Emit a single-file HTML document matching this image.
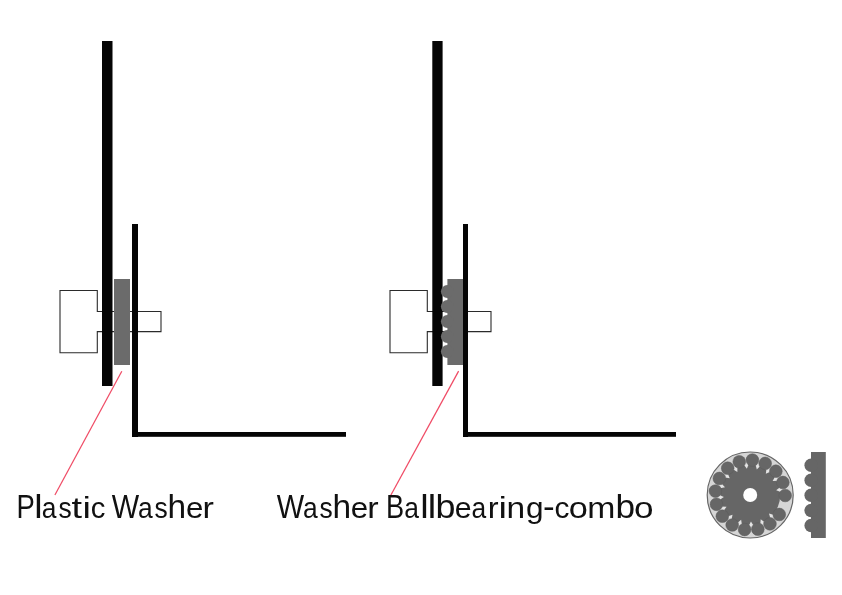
<!DOCTYPE html>
<html><head><meta charset="utf-8"><title>Washer diagram</title>
<style>
html,body{margin:0;padding:0;background:#fff;}
body{width:842px;height:595px;overflow:hidden;}
svg{display:block;will-change:transform;font-family:"Liberation Sans", sans-serif;}
</style></head><body>
<svg width="842" height="595" viewBox="0 0 842 595">
<rect width="842" height="595" fill="#fff"/>
<path d="M161 311.5 H97.3 V290.5 H60 V352.7 H97.3 V331.6 H161 Z" fill="none" stroke="#2b2b2b" stroke-width="1.1"/>
<rect x="102" y="41" width="10.5" height="345" fill="#050505"/>
<rect x="114" y="279" width="16" height="86" fill="#6b6b6b"/>
<rect x="132" y="224" width="6" height="213" fill="#050505"/>
<rect x="132" y="432" width="214" height="4.8" fill="#050505"/>
<line x1="121.8" y1="371.3" x2="54.9" y2="495" stroke="#f04c66" stroke-width="1.25"/>
<path d="M491 311.5 H427.3 V290.5 H390 V352.7 H427.3 V331.6 H491 Z" fill="none" stroke="#2b2b2b" stroke-width="1.1"/>
<rect x="432.3" y="41" width="10.3" height="345" fill="#050505"/>
<rect x="447.4" y="279" width="15.6" height="86" fill="#6b6b6b"/>
<circle cx="447.3" cy="291.5" r="6.4" fill="#6b6b6b"/>
<circle cx="447.3" cy="306.5" r="6.4" fill="#6b6b6b"/>
<circle cx="447.3" cy="321.5" r="6.4" fill="#6b6b6b"/>
<circle cx="447.3" cy="336.5" r="6.4" fill="#6b6b6b"/>
<circle cx="447.3" cy="351.5" r="6.4" fill="#6b6b6b"/>
<rect x="463" y="224" width="5" height="213" fill="#050505"/>
<rect x="463" y="432" width="213" height="4.8" fill="#050505"/>
<line x1="458.6" y1="371.1" x2="390.8" y2="495.3" stroke="#f04c66" stroke-width="1.25"/>
<text transform="translate(16.46 518) scale(0.830 1.0)" font-size="33" fill="#111">P</text>
<text transform="translate(34.30 518) scale(1.138 1.0)" font-size="33" fill="#111">l</text>
<text transform="translate(41.83 518) scale(0.800 0.91)" font-size="33" fill="#111">a</text>
<text transform="translate(58.52 518) scale(0.800 0.91)" font-size="33" fill="#111">s</text>
<text transform="translate(71.47 518) scale(1.150 0.91)" font-size="33" fill="#111">t</text>
<text transform="translate(82.45 518) scale(1.150 0.91)" font-size="33" fill="#111">i</text>
<text transform="translate(90.66 518) scale(0.887 0.91)" font-size="33" fill="#111">c</text>
<text transform="translate(111.82 518) scale(0.880 1.0)" font-size="33" fill="#111">W</text>
<text transform="translate(138.08 518) scale(0.800 0.91)" font-size="33" fill="#111">a</text>
<text transform="translate(154.59 518) scale(0.800 0.91)" font-size="33" fill="#111">s</text>
<text transform="translate(167.57 518) scale(1.014 1.0)" font-size="33" fill="#111">h</text>
<text transform="translate(185.97 518) scale(0.948 0.91)" font-size="33" fill="#111">e</text>
<text transform="translate(202.42 518) scale(1.037 0.91)" font-size="33" fill="#111">r</text>
<text transform="translate(276.72 518) scale(0.880 1.0)" font-size="33" fill="#111">W</text>
<text transform="translate(302.98 518) scale(0.800 0.91)" font-size="33" fill="#111">a</text>
<text transform="translate(319.50 518) scale(0.800 0.91)" font-size="33" fill="#111">s</text>
<text transform="translate(332.47 518) scale(1.014 1.0)" font-size="33" fill="#111">h</text>
<text transform="translate(350.87 518) scale(0.948 0.91)" font-size="33" fill="#111">e</text>
<text transform="translate(367.32 518) scale(1.037 0.91)" font-size="33" fill="#111">r</text>
<text transform="translate(385.98 518) scale(0.824 1.0)" font-size="33" fill="#111">B</text>
<text transform="translate(404.13 518) scale(0.800 0.91)" font-size="33" fill="#111">a</text>
<text transform="translate(420.30 518) scale(1.150 1.0)" font-size="33" fill="#111">l</text>
<text transform="translate(427.70 518) scale(1.150 1.0)" font-size="33" fill="#111">l</text>
<text transform="translate(435.62 518) scale(1.087 1.0)" font-size="33" fill="#111">b</text>
<text transform="translate(454.72 518) scale(0.916 0.91)" font-size="33" fill="#111">e</text>
<text transform="translate(471.48 518) scale(0.800 0.91)" font-size="33" fill="#111">a</text>
<text transform="translate(487.83 518) scale(0.988 0.91)" font-size="33" fill="#111">r</text>
<text transform="translate(498.55 518) scale(1.150 0.91)" font-size="33" fill="#111">i</text>
<text transform="translate(506.57 518) scale(1.014 0.91)" font-size="33" fill="#111">n</text>
<text transform="translate(525.96 518) scale(0.959 0.91)" font-size="33" fill="#111">g</text>
<text transform="translate(543.11 518) scale(1.063 1.0)" font-size="33" fill="#111">-</text>
<text transform="translate(554.58 518) scale(0.905 0.91)" font-size="33" fill="#111">c</text>
<text transform="translate(568.85 518) scale(1.038 0.91)" font-size="33" fill="#111">o</text>
<text transform="translate(587.25 518) scale(1.022 0.91)" font-size="33" fill="#111">m</text>
<text transform="translate(615.46 518) scale(1.067 1.0)" font-size="33" fill="#111">b</text>
<text transform="translate(633.91 518) scale(1.064 0.91)" font-size="33" fill="#111">o</text>
<circle cx="750.2" cy="495" r="43" fill="#d6d6d6" stroke="#666" stroke-width="1.2"/>
<circle cx="750.2" cy="495" r="30" fill="#666"/>
<path d="M774.91 515.24 L770.69 519.50 L768.97 513.57 Z" fill="#e4e4e4"/>
<path d="M765.63 522.97 L760.13 525.36 L760.73 519.21 Z" fill="#e4e4e4"/>
<path d="M754.14 526.70 L748.14 526.88 L750.98 521.39 Z" fill="#e4e4e4"/>
<path d="M742.09 525.89 L736.45 523.83 L741.13 519.79 Z" fill="#e4e4e4"/>
<path d="M731.20 520.67 L726.73 516.67 L732.57 514.65 Z" fill="#e4e4e4"/>
<path d="M723.02 511.78 L720.36 506.40 L726.53 506.70 Z" fill="#e4e4e4"/>
<path d="M718.73 500.49 L718.26 494.50 L723.88 497.07 Z" fill="#e4e4e4"/>
<path d="M718.95 488.41 L720.73 482.68 L724.99 487.15 Z" fill="#e4e4e4"/>
<path d="M723.63 477.27 L727.41 472.62 L729.71 478.35 Z" fill="#e4e4e4"/>
<path d="M732.11 468.67 L737.36 465.76 L737.36 471.93 Z" fill="#e4e4e4"/>
<path d="M743.18 463.84 L749.14 463.08 L746.85 468.81 Z" fill="#e4e4e4"/>
<path d="M755.26 463.46 L761.07 464.96 L756.81 469.44 Z" fill="#e4e4e4"/>
<path d="M766.61 467.60 L771.44 471.15 L765.83 473.72 Z" fill="#e4e4e4"/>
<path d="M775.61 475.65 L778.78 480.74 L772.61 481.05 Z" fill="#e4e4e4"/>
<path d="M780.98 486.47 L782.03 492.38 L776.19 490.37 Z" fill="#e4e4e4"/>
<circle cx="779.28" cy="514.47" r="6.35" fill="#666" stroke="#5a5a5a" stroke-width="0.5"/>
<circle cx="769.97" cy="523.88" r="6.35" fill="#666" stroke="#5a5a5a" stroke-width="0.5"/>
<circle cx="757.84" cy="529.16" r="6.35" fill="#666" stroke="#5a5a5a" stroke-width="0.5"/>
<circle cx="744.60" cy="529.55" r="6.35" fill="#666" stroke="#5a5a5a" stroke-width="0.5"/>
<circle cx="732.17" cy="525.00" r="6.35" fill="#666" stroke="#5a5a5a" stroke-width="0.5"/>
<circle cx="722.32" cy="516.16" r="6.35" fill="#666" stroke="#5a5a5a" stroke-width="0.5"/>
<circle cx="716.46" cy="504.29" r="6.35" fill="#666" stroke="#5a5a5a" stroke-width="0.5"/>
<circle cx="715.42" cy="491.10" r="6.35" fill="#666" stroke="#5a5a5a" stroke-width="0.5"/>
<circle cx="719.35" cy="478.46" r="6.35" fill="#666" stroke="#5a5a5a" stroke-width="0.5"/>
<circle cx="727.70" cy="468.19" r="6.35" fill="#666" stroke="#5a5a5a" stroke-width="0.5"/>
<circle cx="739.27" cy="461.75" r="6.35" fill="#666" stroke="#5a5a5a" stroke-width="0.5"/>
<circle cx="752.40" cy="460.07" r="6.35" fill="#666" stroke="#5a5a5a" stroke-width="0.5"/>
<circle cx="765.21" cy="463.38" r="6.35" fill="#666" stroke="#5a5a5a" stroke-width="0.5"/>
<circle cx="775.88" cy="471.22" r="6.35" fill="#666" stroke="#5a5a5a" stroke-width="0.5"/>
<circle cx="782.88" cy="482.46" r="6.35" fill="#666" stroke="#5a5a5a" stroke-width="0.5"/>
<circle cx="785.20" cy="495.49" r="6.35" fill="#666" stroke="#5a5a5a" stroke-width="0.5"/>
<circle cx="750.2" cy="495" r="7" fill="#fff"/>
<rect x="811" y="452" width="14.8" height="86" fill="#666"/>
<circle cx="811.2" cy="465.3" r="6.8" fill="#666"/>
<circle cx="811.2" cy="480.3" r="6.8" fill="#666"/>
<circle cx="811.2" cy="495.3" r="6.8" fill="#666"/>
<circle cx="811.2" cy="510.5" r="6.8" fill="#666"/>
<circle cx="811.2" cy="525.5" r="6.8" fill="#666"/>
</svg>
</body></html>
